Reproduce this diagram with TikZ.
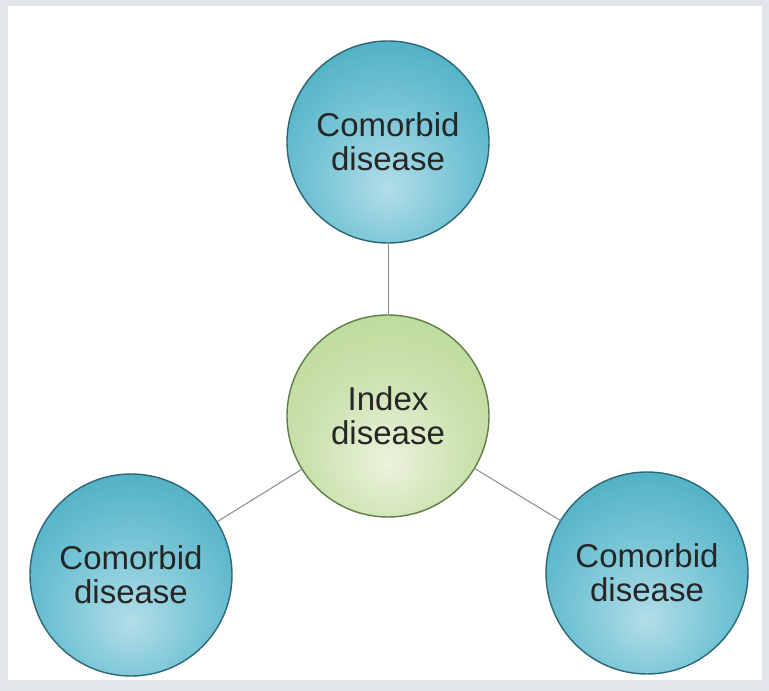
\documentclass[tikz,border=0pt]{standalone}
\usepackage{fontspec}
\setmainfont{Liberation Sans}
\definecolor{bordergray}{HTML}{E3E6E9}
\definecolor{tealin}{HTML}{B3DDE8}
\definecolor{tealmid}{HTML}{5DBBCE}
\definecolor{tealout}{HTML}{1E92AC}
\definecolor{tealline}{HTML}{2E6774}
\definecolor{greenin}{HTML}{EBF3DC}
\definecolor{greenmid}{HTML}{B5D690}
\definecolor{greenout}{HTML}{83B652}
\definecolor{greenline}{HTML}{5E7E45}
\definecolor{txt}{HTML}{262626}
\definecolor{conn}{HTML}{8A8A8A}
\pgfdeclareradialshading{tealball}{\pgfpoint{0bp}{-12bp}}{color(0bp)=(tealin); color(18bp)=(tealmid!70!tealin); color(40bp)=(tealmid!50!tealout); color(58bp)=(tealout); color(80bp)=(tealout)}
\pgfdeclareradialshading{greenball}{\pgfpoint{0bp}{-12bp}}{color(0bp)=(greenin); color(20bp)=(greenmid!60!greenin); color(42bp)=(greenmid); color(60bp)=(greenout); color(80bp)=(greenout)}
\tikzset{
  ball/.style={circle, minimum size=202pt, inner sep=0pt, outer sep=0pt, line width=1.4pt,
    font=\fontsize{33}{34}\selectfont, text=txt, align=center},
  comorbid/.style={ball, draw=tealline, shading=tealball},
  indexball/.style={ball, draw=greenline, shading=greenball},
  link/.style={draw=conn, line width=1pt}
}
\begin{document}
\begin{tikzpicture}[x=1pt,y=1pt]
  \fill[bordergray] (0,0) rectangle (769,691);
  \fill[white] (8,11) rectangle (762,685);
  \useasboundingbox (0,0) rectangle (769,691);
  \node[indexball] (idx) at (388,275) {Index\\disease};
  \node[comorbid] (top) at (388,549) {Comorbid\\disease};
  \node[comorbid] (left) at (131,116) {Comorbid\\disease};
  \node[comorbid] (right) at (647,118) {Comorbid\\disease};
  \draw[link] (idx) -- (top);
  \draw[link] (idx) -- (left);
  \draw[link] (idx) -- (right);
\end{tikzpicture}
\end{document}
